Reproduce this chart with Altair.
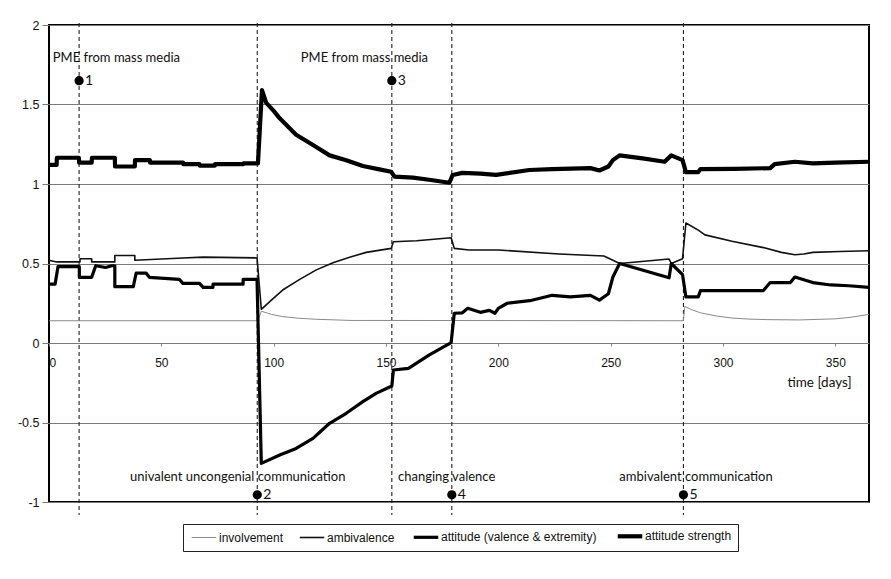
import altair as alt
import pandas as pd

# ---------------- data ----------------
inv_days = [0, 93, 94.5, 99, 104, 111, 119, 126, 134, 282.4, 283, 286, 290, 297, 304, 312, 320, 334, 350, 357, 365]
inv_vals = [0.14, 0.14, 0.20, 0.18, 0.166, 0.156, 0.149, 0.146, 0.142, 0.14, 0.23, 0.21, 0.19, 0.17, 0.157, 0.15, 0.147, 0.145, 0.152, 0.162, 0.18]

amb_days = [0, 3.4, 13.8, 13.8, 19, 19, 29.3, 29.3, 38.2, 38.2,
            59.6, 68.6, 92.6, 94.5, 99, 104, 111.6, 119, 126.4, 133.8,
            141.2, 152.3, 153.3, 163.6, 179, 180.4, 187, 200, 227, 247,
            251, 254, 276, 277, 282, 283.5, 289, 292, 304, 318,
            326, 332, 336, 340, 352, 365]
amb_vals = [0.52, 0.51, 0.51, 0.53, 0.53, 0.51, 0.51, 0.55, 0.55, 0.52,
            0.535, 0.54, 0.535, 0.212, 0.27, 0.333, 0.40, 0.46, 0.505, 0.539,
            0.57, 0.595, 0.637, 0.643, 0.662, 0.595, 0.585, 0.585, 0.56, 0.547,
            0.52, 0.50, 0.528, 0.50, 0.53, 0.755, 0.71, 0.68, 0.64, 0.60,
            0.57, 0.555, 0.56, 0.57, 0.575, 0.58]

att_days = [0, 2.7, 4, 10.8, 13.5, 13.5, 19, 20.8, 25.2, 28,
            29.3, 29.3, 37.5, 38.8, 43.2, 44.7, 58, 59.6, 67, 68.6,
            73, 73, 86.4, 86.4, 92.6, 94.5, 102.7, 110, 117.5, 124.9,
            132.3, 139.7, 145.6, 152.6, 153.3, 160, 169.3, 179, 180.4, 184,
            186.4, 192, 196, 198.5, 200, 204, 214, 224, 232, 241,
            245, 249, 251, 254, 276, 277, 282, 283.5, 289, 290,
            318, 321, 330, 332, 340, 348, 356, 365]
att_vals = [0.37, 0.37, 0.48, 0.48, 0.48, 0.413, 0.413, 0.486, 0.475, 0.486,
            0.486, 0.354, 0.354, 0.44, 0.44, 0.413, 0.40, 0.375, 0.375, 0.35,
            0.35, 0.37, 0.37, 0.40, 0.40, -0.757, -0.704, -0.663, -0.60, -0.505,
            -0.442, -0.369, -0.317, -0.27, -0.17, -0.16, -0.075, 0.002, 0.187, 0.19,
            0.218, 0.193, 0.205, 0.187, 0.218, 0.25, 0.266, 0.30, 0.29, 0.30,
            0.27, 0.31, 0.415, 0.50, 0.41, 0.50, 0.43, 0.29, 0.29, 0.33,
            0.33, 0.38, 0.38, 0.415, 0.38, 0.365, 0.36, 0.35]

str_days = [0, 3.4, 3.5, 13.3, 13.4, 19, 19.1, 29.3, 29.4, 38.2,
            38.3, 44.9, 45, 59.7, 59.8, 67, 67.1, 73.8, 73.9, 86.4,
            86.5, 93, 94.8, 96.7, 100, 102.7, 110, 117.5, 124.9, 132.3,
            139.7, 147.1, 152.3, 153.8, 162, 170, 178.2, 179.7, 184, 192,
            199, 213.8, 224, 241, 245, 249, 251, 254, 265, 274,
            277, 282, 283.5, 289, 290, 305, 321, 323, 332, 340,
            350, 365]
str_vals = [1.12, 1.12, 1.165, 1.165, 1.135, 1.135, 1.165, 1.165, 1.11, 1.11,
            1.15, 1.15, 1.135, 1.135, 1.125, 1.125, 1.115, 1.115, 1.125, 1.125,
            1.13, 1.13, 1.59, 1.51, 1.46, 1.413, 1.31, 1.245, 1.18, 1.15,
            1.113, 1.092, 1.077, 1.046, 1.04, 1.025, 1.008, 1.057, 1.07, 1.065,
            1.057, 1.088, 1.094, 1.10, 1.085, 1.11, 1.15, 1.18, 1.16, 1.14,
            1.18, 1.15, 1.075, 1.075, 1.094, 1.095, 1.10, 1.125, 1.14, 1.13,
            1.135, 1.14]

series_names = ["involvement", "ambivalence", "attitude (valence & extremity)", "attitude strength"]
series_colors = ["#8a8a8a", "#111111", "#000000", "#000000"]
series_widths = [1.0, 1.6, 3.2, 4.2]

event_days = [13.4, 92.7, 152.6, 179.3, 282.4]
event_nums = ["1", "2", "3", "4", "5"]
event_vals = [1.65, -0.955, 1.65, -0.955, -0.955]

ann_texts = ["PME from mass media", "PME from mass media",
             "univalent uncongenial communication", "changing valence",
             "ambivalent communication"]
ann_days = [30, 140.4, 84, 177, 288]
ann_vals = [1.79, 1.79, -0.84, -0.84, -0.84]

x_ticks = [0, 50, 100, 150, 200, 250, 300, 350]
y_ticks = [-1, -0.5, 0, 0.5, 1, 1.5, 2]

# ---------------- tables ----------------
series_data = [inv_days, amb_days, att_days, str_days]
series_vals = [inv_vals, amb_vals, att_vals, str_vals]
rows = []
for name, d, v in zip(series_names, series_data, series_vals):
    assert len(d) == len(v), name
    for i, (a, b) in enumerate(zip(d, v)):
        rows.append({"series": name, "day": a, "value": b, "idx": i})
lines_df = pd.DataFrame(rows)
events_df = pd.DataFrame({"day": event_days, "num": event_nums, "value": event_vals})
ann_df = pd.DataFrame({"day": ann_days, "text": ann_texts, "value": ann_vals})

W, H = 820, 477
xscale = alt.Scale(domain=[0, 365], nice=False, zero=False)
yscale = alt.Scale(domain=[-1, 2], nice=False)

width_expr = " : ".join(
    f"datum.value == '{n}' ? {w}" for n, w in zip(series_names[:-1], series_widths[:-1])
) + f" : {series_widths[-1]}"

legend = alt.Legend(title=None, orient="none", legendX=134, legendY=499,
                    direction="horizontal", columns=4,
                    symbolType="stroke", symbolSize=600, symbolOffset=9,
                    symbolStrokeWidth=alt.ExprRef(width_expr),
                    labelFont="Liberation Sans", labelFontSize=12,
                    labelColor="#111", labelOffset=9,
                    columnPadding=12, padding=6,
                    strokeColor="#222", fillColor="white")

x_axis = alt.Axis(values=x_ticks, offset=-159, grid=False, domain=False,
                  tickSize=3, tickColor="#888", labelPadding=16,
                  labelBaseline="middle", labelFont="Liberation Sans",
                  labelFontSize=12, labelColor="#111",
                  title="time [days]", titleFont="Lato", titleFontSize=13.5,
                  titleFontWeight="normal", titleColor="#111",
                  titleX=770, titleY=39, titleAlign="center",
                  titleBaseline="middle")
y_axis = alt.Axis(values=y_ticks, grid=True, gridColor="#7a7a7a", gridWidth=1,
                  domain=False, tickSize=7, tickColor="#7a7a7a",
                  labelPadding=3, labelFont="Liberation Sans",
                  labelFontSize=12.5, labelColor="#111", title=None,
                  labelExpr="datum.value < 0 ? '-' + format(-datum.value, '~g') : format(datum.value, '~g')")

line_layers = []
for name, w in zip(series_names, series_widths):
    line_layers.append(
        alt.Chart(lines_df).transform_filter(alt.datum.series == name)
        .mark_line(strokeWidth=w, strokeJoin="round")
        .encode(
            x=alt.X("day:Q", scale=xscale, axis=x_axis),
            y=alt.Y("value:Q", scale=yscale, axis=y_axis),
            color=alt.Color("series:N", sort=series_names,
                            scale=alt.Scale(domain=series_names, range=series_colors),
                            legend=legend),
            order="idx:Q",
        )
    )

rules = alt.Chart(events_df).mark_rule(strokeDash=[4, 3], color="#222", strokeWidth=1.1).encode(
    x=alt.X("day:Q", scale=xscale),
    y=alt.value(-2),
    y2=alt.value(490),
)

dots = alt.Chart(events_df).mark_circle(size=85, color="black", opacity=1).encode(
    x=alt.X("day:Q", scale=xscale),
    y=alt.Y("value:Q", scale=yscale),
)

nums = alt.Chart(events_df).mark_text(align="left", baseline="middle", dx=6, font="Lato",
                                      fontSize=14, color="#111").encode(
    x=alt.X("day:Q", scale=xscale),
    y=alt.Y("value:Q", scale=yscale),
    text="num:N",
)

anns = alt.Chart(ann_df).mark_text(align="center", baseline="middle", font="Lato",
                                   fontSize=13, color="#111").encode(
    x=alt.X("day:Q", scale=xscale),
    y=alt.Y("value:Q", scale=yscale),
    text="text:N",
)

chart = alt.layer(rules, *line_layers, dots, nums, anns).properties(
    width=W, height=H,
    padding={"left": 49, "top": 25, "right": 22, "bottom": 77},
    autosize="none",
    background="white",
).configure_view(stroke="#000", strokeWidth=2)

chart.save("out.html", embed_options={"renderer": "svg", "actions": False})
